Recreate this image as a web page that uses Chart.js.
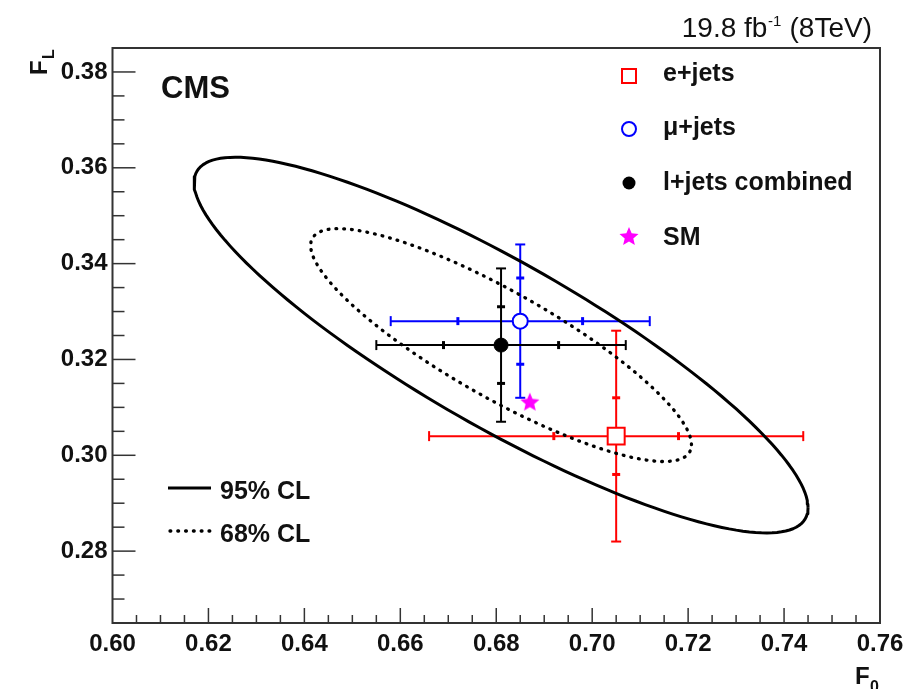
<!DOCTYPE html>
<html><head><meta charset="utf-8">
<script src="https://cdn.jsdelivr.net/npm/chart.js@4/dist/chart.umd.min.js"></script>
<style>html,body{margin:0;padding:0;background:#fff;}canvas{display:block;}</style>
</head><body>
<canvas id="c" width="905" height="689"></canvas>
<script>
// ---- axis ticks ----
const xTicks = [0.60, 0.62, 0.64, 0.66, 0.68, 0.70, 0.72, 0.74, 0.76];
const yTicks = [0.28, 0.30, 0.32, 0.34, 0.36, 0.38];
const xRange = [0.60, 0.76];
const yRange = [0.265, 0.385];

// ---- measurements: e+jets, mu+jets, l+jets combined ----
const seriesNames = ['e+jets', 'μ+jets', 'l+jets combined'];
const F0      = [0.705, 0.685, 0.681];
const FL      = [0.304, 0.328, 0.323];
const F0stat  = [0.013, 0.013, 0.012];
const F0total = [0.039, 0.027, 0.026];
const FLstat  = [0.008, 0.009, 0.008];
const FLtotal = [0.022, 0.016, 0.016];

// ---- Standard Model prediction ----
const smName = 'SM';
const smF0 = [0.687];
const smFL = [0.311];

// ---- confidence contours around the combined result ----
const clNames   = ['95% CL', '68% CL'];
const clHalfF0  = [0.0640, 0.0397];   // half extent along F0
const clHalfFL  = [0.0392, 0.0243];   // half extent along FL
const clRho     = [-0.865, -0.855];   // correlation

const colors = ['#ff0000', '#0000ff', '#000000'];
const FONT = "'Liberation Sans', Arial, Helvetica, sans-serif";

function contour(i) {
  const pts = [];
  const cx = F0[2], cy = FL[2];
  const sx = clHalfF0[i], sy = clHalfFL[i], r = clRho[i];
  for (let k = 0; k <= 360; k += 2) {
    const t = k * Math.PI / 180;
    pts.push({x: cx + sx * Math.cos(t), y: cy + sy * (r * Math.cos(t) + Math.sqrt(1 - r * r) * Math.sin(t))});
  }
  return pts;
}

function starCanvas(R, col) {
  const cv = document.createElement('canvas');
  const s = Math.ceil(2 * R + 2);
  cv.width = s; cv.height = s;
  const c = cv.getContext('2d');
  c.fillStyle = col;
  c.beginPath();
  for (let k = 0; k < 10; k++) {
    const rr = k % 2 === 0 ? R : R * 0.45;
    const a = -Math.PI / 2 + k * Math.PI / 5;
    const px = s / 2 + rr * Math.cos(a), py = s / 2 + rr * Math.sin(a);
    if (k === 0) c.moveTo(px, py); else c.lineTo(px, py);
  }
  c.closePath(); c.fill();
  return cv;
}
const starImg = starCanvas(10, '#ff00ff');

function line(c, x1, y1, x2, y2) { c.beginPath(); c.moveTo(x1, y1); c.lineTo(x2, y2); c.stroke(); }

const rootStyle = {
  id: 'rootStyle',
  beforeDatasetsDraw(chart) {
    const xs = chart.scales.x, ys = chart.scales.y, c = chart.ctx;
    c.save();
    c.lineCap = 'butt';
    for (let i = 0; i < F0.length; i++) {
      const px = xs.getPixelForValue(F0[i]), py = ys.getPixelForValue(FL[i]);
      const xl = xs.getPixelForValue(F0[i] - F0total[i]), xr = xs.getPixelForValue(F0[i] + F0total[i]);
      const yt = ys.getPixelForValue(FL[i] + FLtotal[i]), yb = ys.getPixelForValue(FL[i] - FLtotal[i]);
      const sl = xs.getPixelForValue(F0[i] - F0stat[i]), sr = xs.getPixelForValue(F0[i] + F0stat[i]);
      const st = ys.getPixelForValue(FL[i] + FLstat[i]), sb = ys.getPixelForValue(FL[i] - FLstat[i]);
      c.strokeStyle = colors[i];
      c.lineWidth = 2;
      line(c, xl, py, xr, py);
      line(c, px, yt, px, yb);
      line(c, xl, py - 5, xl, py + 5); line(c, xr, py - 5, xr, py + 5);
      line(c, px - 5, yt, px + 5, yt); line(c, px - 5, yb, px + 5, yb);
      c.lineWidth = 3;
      line(c, sl, py - 4, sl, py + 4); line(c, sr, py - 4, sr, py + 4);
      line(c, px - 4, st, px + 4, st); line(c, px - 4, sb, px + 4, sb);
    }
    c.restore();
  },
  afterDraw(chart) {
    const xs = chart.scales.x, ys = chart.scales.y, c = chart.ctx, a = chart.chartArea;
    c.save();
    // frame
    c.strokeStyle = '#333'; c.lineWidth = 2;
    c.strokeRect(a.left, a.top, a.right - a.left, a.bottom - a.top);
    // ticks (inside)
    c.lineWidth = 1.5;
    for (let k = 0; k < xTicks.length; k++) {
      const p = xs.getPixelForValue(xTicks[k]);
      if (k > 0 && k < xTicks.length - 1) line(c, p, a.bottom, p, a.bottom - 15);
      if (k < xTicks.length - 1) {
        const step = (xTicks[k + 1] - xTicks[k]) / 4;
        for (let m = 1; m < 4; m++) { const q = xs.getPixelForValue(xTicks[k] + m * step); line(c, q, a.bottom, q, a.bottom - 8); }
      }
    }
    const ystep = (yTicks[1] - yTicks[0]) / 4;
    for (let v = yRange[0] + ystep; v < yRange[1] - 1e-9; v += ystep) {
      const p = ys.getPixelForValue(v);
      const major = yTicks.some(t => Math.abs(t - v) < 1e-6);
      line(c, a.left, p, a.left + (major ? 23 : 12), p);
    }
    // CMS label
    c.fillStyle = '#111';
    c.textBaseline = 'alphabetic';
    c.textAlign = 'left';
    c.font = 'bold 31px ' + FONT;
    c.fillText('CMS', 161, 98);
    // lumi label
    c.font = '28px ' + FONT;
    const t1 = '19.8 fb', t3 = ' (8TeV)';
    const w1 = c.measureText(t1).width, w3 = c.measureText(t3).width;
    c.font = '15px ' + FONT;
    const w2 = c.measureText('-1').width;
    let x0 = 872 - (w1 + w2 + 1 + w3);
    c.font = '28px ' + FONT; c.fillText(t1, x0, 37);
    c.font = '15px ' + FONT; c.fillText('-1', x0 + w1 + 0.5, 26);
    c.font = '28px ' + FONT; c.fillText(t3, x0 + w1 + w2 + 1, 37);
    // axis titles
    c.font = 'bold 24px ' + FONT;
    c.fillText('F', 855, 684);
    c.font = 'bold 16px ' + FONT;
    c.fillText('0', 870, 692);
    c.save();
    c.translate(47, 75); c.rotate(-Math.PI / 2);
    c.font = 'bold 24px ' + FONT; c.fillText('F', 0, 0);
    c.font = 'bold 16px ' + FONT; c.fillText('L', 16, 7);
    c.restore();
    // legend (top right)
    const lx = 629, ly = [76, 129, 183, 237], tb = [81, 135, 190, 245];
    c.lineWidth = 2;
    c.strokeStyle = colors[0]; c.fillStyle = '#fff';
    c.fillRect(lx - 7, ly[0] - 7, 14, 14); c.strokeRect(lx - 7, ly[0] - 7, 14, 14);
    c.strokeStyle = colors[1];
    c.beginPath(); c.arc(lx, ly[1], 7, 0, 2 * Math.PI); c.fill(); c.stroke();
    c.fillStyle = colors[2];
    c.beginPath(); c.arc(lx, ly[2], 6.5, 0, 2 * Math.PI); c.fill();
    c.drawImage(starImg, lx - starImg.width / 2, ly[3] - starImg.height / 2);
    c.fillStyle = '#111';
    c.font = 'bold 25px ' + FONT;
    const names = seriesNames.concat([smName]);
    for (let i = 0; i < names.length; i++) c.fillText(names[i], 663, tb[i]);
    // legend (bottom left)
    c.strokeStyle = '#000';
    c.lineWidth = 3; c.lineCap = 'butt'; c.setLineDash([]);
    line(c, 168, 488, 211, 488);
    c.lineWidth = 3.3; c.lineCap = 'round'; c.setLineDash([0.8, 7]);
    line(c, 170, 531, 211, 531);
    c.setLineDash([]);
    c.font = 'bold 25px ' + FONT;
    c.fillText(clNames[0], 220, 499);
    c.fillText(clNames[1], 220, 542);
    c.restore();
  }
};

const tickFont = {family: FONT, size: 24, weight: 'bold'};

new Chart(document.getElementById('c'), {
  type: 'scatter',
  data: {
    datasets: [
      {label: clNames[0], data: contour(0), showLine: true, borderColor: '#000', borderWidth: 3, pointRadius: 0, fill: false, tension: 0, borderJoinStyle: 'round'},
      {label: clNames[1], data: contour(1), showLine: true, borderColor: '#000', borderWidth: 3.3, borderDash: [0.8, 7], borderCapStyle: 'round', pointRadius: 0, fill: false, tension: 0},
      {label: seriesNames[0], data: [{x: F0[0], y: FL[0]}], pointStyle: 'rect', pointRadius: 12, pointBackgroundColor: '#fff', pointBorderColor: colors[0], pointBorderWidth: 2},
      {label: seriesNames[1], data: [{x: F0[1], y: FL[1]}], pointStyle: 'circle', pointRadius: 7.5, pointBackgroundColor: '#fff', pointBorderColor: colors[1], pointBorderWidth: 2},
      {label: seriesNames[2], data: [{x: F0[2], y: FL[2]}], pointStyle: 'circle', pointRadius: 7, pointBackgroundColor: colors[2], pointBorderColor: colors[2], pointBorderWidth: 1},
      {label: smName, data: smF0.map((v, i) => ({x: v, y: smFL[i]})), pointStyle: starImg, pointRadius: 10}
    ]
  },
  options: {
    responsive: false,
    animation: false,
    devicePixelRatio: 1,
    events: [],
    layout: {padding: {left: 12, top: 48, right: 25, bottom: 16}},
    plugins: {legend: {display: false}, tooltip: {enabled: false}},
    scales: {
      x: {
        type: 'linear', min: xRange[0], max: xRange[1],
        afterBuildTicks: s => { s.ticks = xTicks.map(v => ({value: v})); },
        afterFit: s => { s.height = 50; s.paddingLeft = 0; s.paddingRight = 0; },
        grid: {display: false, drawTicks: false},
        border: {display: false},
        ticks: {padding: 7, font: tickFont, color: '#111', maxRotation: 0, autoSkip: false, callback: v => Number(v).toFixed(2)}
      },
      y: {
        type: 'linear', min: yRange[0], max: yRange[1],
        afterBuildTicks: s => { s.ticks = yTicks.map(v => ({value: v})); },
        afterFit: s => { s.width = 100.5; s.paddingTop = 0; s.paddingBottom = 0; },
        grid: {display: false, drawTicks: false},
        border: {display: false},
        ticks: {padding: 5, font: tickFont, color: '#111', autoSkip: false, callback: v => Number(v).toFixed(2)}
      }
    }
  },
  plugins: [rootStyle]
});
</script>
</body></html>
